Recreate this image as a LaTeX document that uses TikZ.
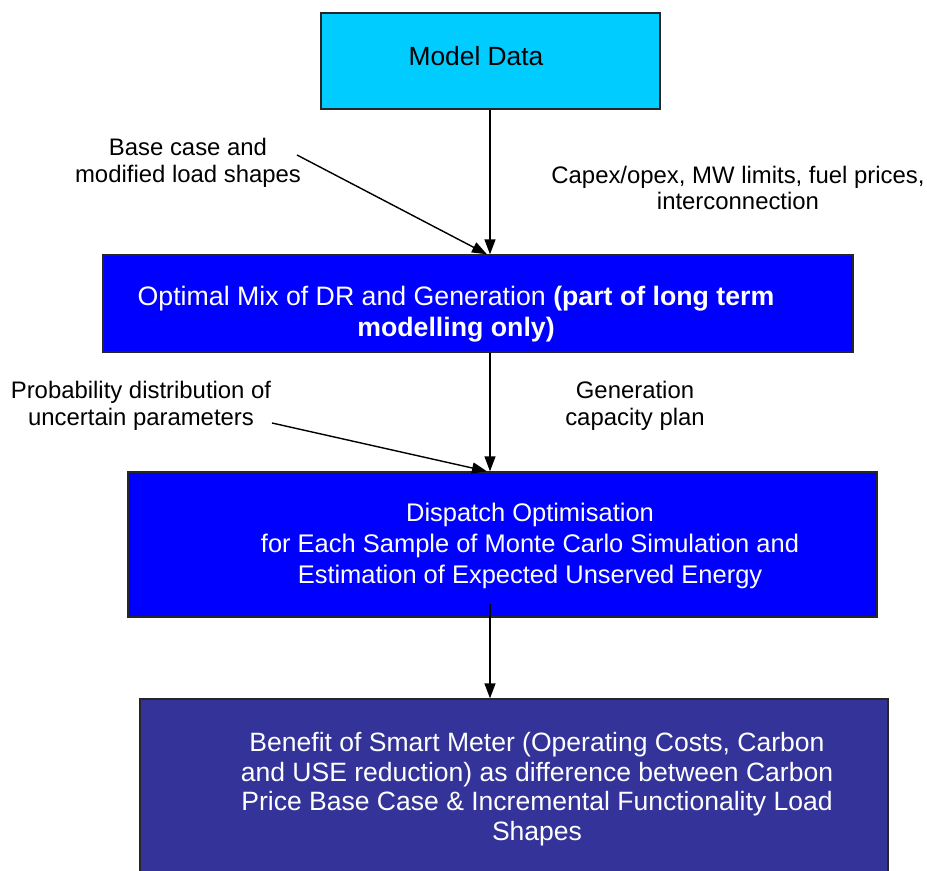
\documentclass[tikz,border=0pt]{standalone}
\usepackage{fontspec}
\setmainfont{Liberation Sans}
\usetikzlibrary{arrows.meta, calc}

\definecolor{mdcyan}{RGB}{0,204,255}
\definecolor{mdblue}{RGB}{0,0,255}
\definecolor{mdnavy}{RGB}{51,51,153}

\tikzset{
    box/.style={draw=black!85, line width=0.8pt, minimum width=#1, inner sep=0pt},
    boxtext/.style={text=white, align=center, font=\fontsize{14.5}{17.5}\selectfont},
    lbl/.style={align=center, font=\fontsize{13.6}{15.3}\selectfont},
    arr/.style={line width=0.8pt, -{Triangle[length=0.3cm, width=0.22cm]}}
}

\begin{document}
\begin{tikzpicture}[x=0.02cm, y=-0.02cm]
        \useasboundingbox (0,0) rectangle (927,871);

        % boxes
        \node[box=6.78cm, minimum height=1.92cm, fill=mdcyan] (mdata) at (490.5,61) {};
        \node[box=15cm, minimum height=1.94cm, fill=mdblue] (optmix) at (478,303.5) {};
        \node[box=14.98cm, minimum height=2.9cm, fill=mdblue] (dispatch) at (502.5,544.5) {};
        \node[box=14.96cm, minimum height=3.72cm, fill=mdnavy] (benefit) at (514,792) {};

        \node[font=\fontsize{15}{18}\selectfont] (mdtext) at (476,56) {Model Data};
        \node[boxtext, font=\fontsize{15.2}{18}\selectfont] (optext) at (456,314)
            {Optimal Mix of DR and Generation \textbf{(part of long term}\\ \textbf{modelling only)}};
        \node[boxtext] (dtext) at (530,546)
            {Dispatch Optimisation\\ for Each Sample of Monte Carlo Simulation and\\ Estimation of Expected Unserved Energy};
        \node[boxtext, font=\fontsize{15.1}{16.9}\selectfont] (btext) at (537,789)
            {Benefit of Smart Meter (Operating Costs, Carbon\\ and USE reduction) as difference between Carbon\\ Price Base Case \& Incremental Functionality Load\\ Shapes};

        % labels
        \node[lbl] (load) at (188,163) {Base case and\\ modified load shapes};
        \node[lbl] (capex) at (738,188) {Capex/opex, MW limits, fuel prices,\\ interconnection};
        \node[lbl] (prob) at (141,406) {Probability distribution of\\ uncertain parameters};
        \node[lbl] (gen) at (635,406) {Generation\\ capacity plan};

        \coordinate (loadend) at (297,155);
        \coordinate (probend) at (272,423);

        % arrows
        \draw[arr] (mdata.south -| 490,0) -- (optmix.north -| 490,0);
        \draw[arr] (loadend) -- (optmix.north -| 487,0);
        \draw[arr] (optmix.south -| 490,0) -- (dispatch.north -| 490,0);
        \draw[arr] (probend) -- (dispatch.north -| 487,0);
        \draw[arr] ($(dispatch.south -| 490,0)+(0,-14)$) -- (benefit.north -| 490,0);

    \end{tikzpicture}
\end{document}
